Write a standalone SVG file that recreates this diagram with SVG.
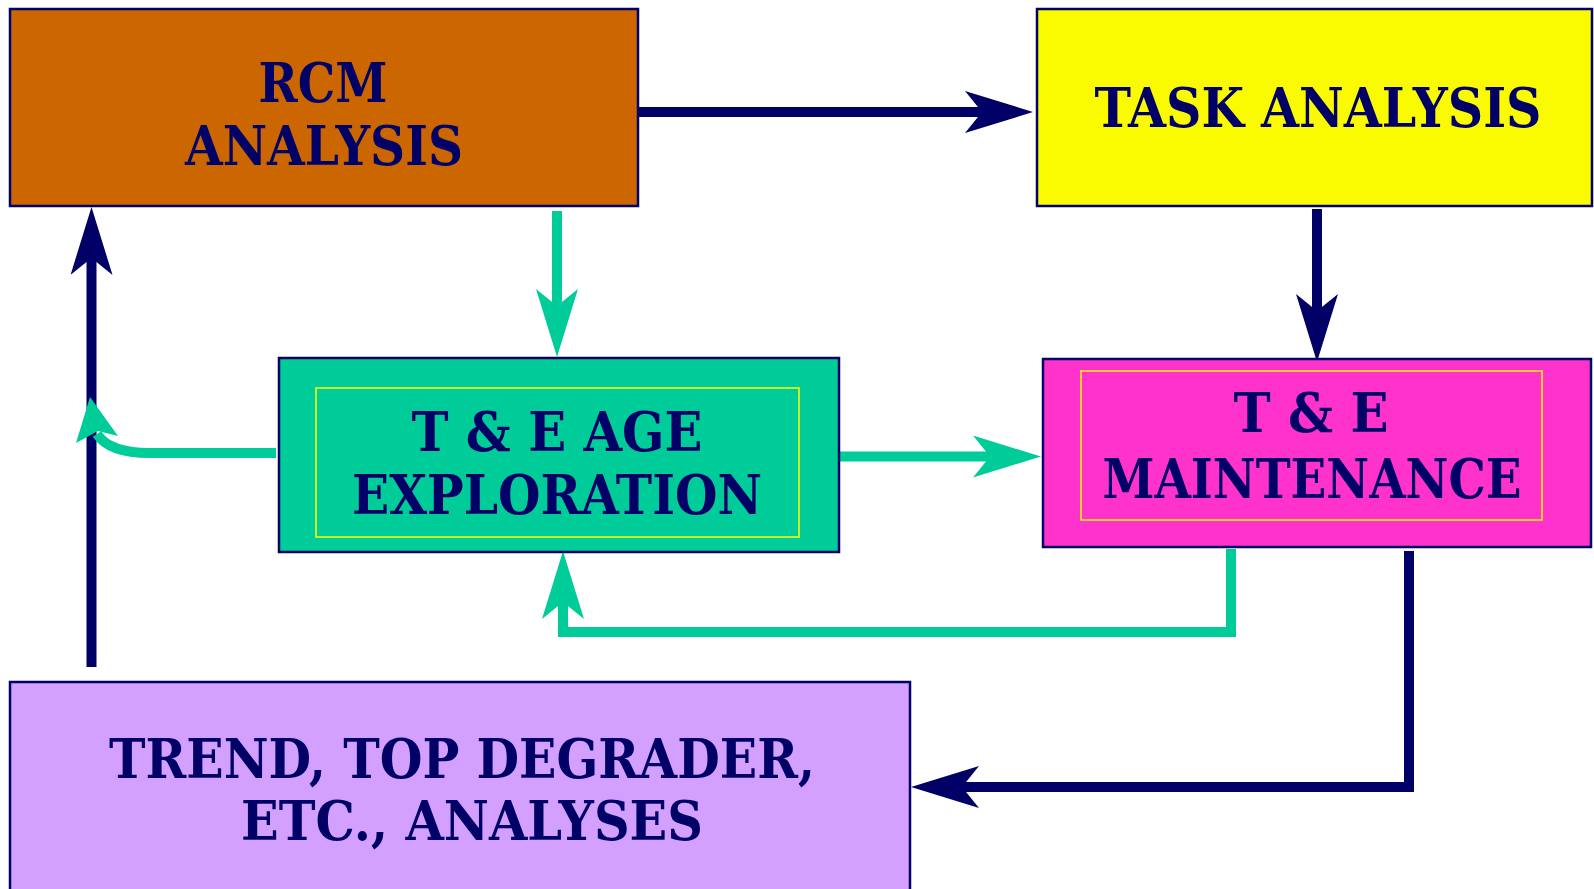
<svg xmlns="http://www.w3.org/2000/svg" width="1594" height="889" viewBox="0 0 1594 889">
<style>
.box{stroke:#000066;stroke-width:2.5}
.inner{fill:none;stroke:#FFFF00;stroke-width:1.5}
.t{font-family:"DejaVu Serif Condensed","DejaVu Serif","Liberation Serif",serif;font-stretch:condensed;font-weight:bold;font-size:54px;fill:#000066;text-anchor:middle}
.navy{fill:none;stroke:#000066;stroke-width:10}
.green{fill:none;stroke:#00CC99;stroke-width:10}
</style>
<defs>
<marker id="ahN" markerUnits="userSpaceOnUse" markerWidth="70" markerHeight="44" viewBox="0 0 70 44" refX="19" refY="21" orient="auto">
<path d="M0,0 L68,21 L0,42 L17,21 z" fill="#000066"/>
</marker>
<marker id="ahG" markerUnits="userSpaceOnUse" markerWidth="70" markerHeight="44" viewBox="0 0 70 44" refX="19" refY="21" orient="auto">
<path d="M0,0 L68,21 L0,42 L17,21 z" fill="#00CC99"/>
</marker>
</defs>
<rect width="1594" height="889" fill="#FFFFFF"/>

<g id="connectors">
<line class="navy" x1="638" y1="112" x2="984" y2="112" marker-end="url(#ahN)"/>
<line class="green" x1="557" y1="211" x2="557" y2="308" marker-end="url(#ahG)"/>
<line class="navy" x1="1317" y1="209" x2="1317" y2="313" marker-end="url(#ahN)"/>
<line class="green" x1="840" y1="456.5" x2="992" y2="456.5" marker-end="url(#ahG)"/>
<line class="navy" x1="91.5" y1="667" x2="91.5" y2="256" marker-end="url(#ahN)"/>
<path class="green" d="M1231,549 V632 H563 V600" marker-end="url(#ahG)"/>
<path class="navy" d="M1409,551 V787 H960" marker-end="url(#ahN)"/>
<path class="green" d="M276,453 H150 C124,453 106,448 97,434"/>
<polygon points="90,397 118,436 98,431 76,443" fill="#00CC99"/>
</g>

<g id="rcm">
<rect class="box" x="10" y="9" width="628" height="197" fill="#CC6600"/>
<text class="t" x="323" y="102" textLength="129" lengthAdjust="spacingAndGlyphs">RCM</text>
<text class="t" x="324" y="165" textLength="278" lengthAdjust="spacingAndGlyphs">ANALYSIS</text>
</g>

<g id="task">
<rect class="box" x="1037" y="9" width="555" height="197" fill="#FAFA00"/>
<text class="t" x="1318" y="127" textLength="447" lengthAdjust="spacingAndGlyphs">TASK ANALYSIS</text>
</g>

<g id="age">
<rect class="box" x="279" y="358" width="560" height="194" fill="#00CC99"/>
<rect class="inner" x="316" y="388" width="483" height="149"/>
<text class="t" x="557" y="451" textLength="291" lengthAdjust="spacingAndGlyphs">T &amp; E AGE</text>
<text class="t" x="557" y="514" textLength="410" lengthAdjust="spacingAndGlyphs">EXPLORATION</text>
</g>

<g id="maint">
<rect class="box" x="1043" y="359" width="548" height="188" fill="#FF33CC"/>
<rect class="inner" x="1081" y="371" width="461" height="149"/>
<text class="t" x="1311" y="432" textLength="155" lengthAdjust="spacingAndGlyphs">T &amp; E</text>
<text class="t" x="1312" y="498" textLength="419" lengthAdjust="spacingAndGlyphs">MAINTENANCE</text>
</g>

<g id="trend">
<rect class="box" x="10" y="682" width="900" height="220" fill="#D4A0FF"/>
<text class="t" x="462" y="778" textLength="706" lengthAdjust="spacingAndGlyphs">TREND, TOP DEGRADER,</text>
<text class="t" x="472" y="840" textLength="462" lengthAdjust="spacingAndGlyphs">ETC., ANALYSES</text>
</g>
</svg>
